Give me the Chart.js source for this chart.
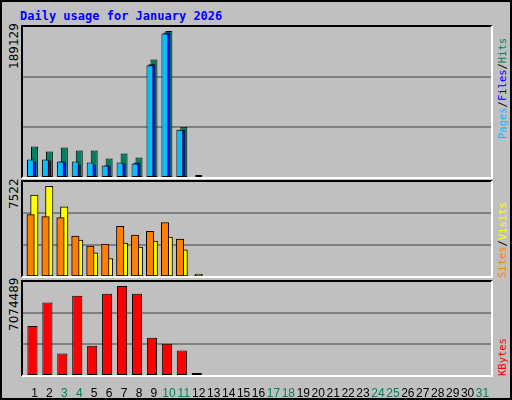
<!DOCTYPE html>
<html><head><meta charset="utf-8">
<script src="https://cdn.jsdelivr.net/npm/chart.js@4"></script>
<style>
html,body{margin:0;padding:0;}
#wrap{position:relative;width:508px;height:396px;background:#c0c0c0;border:2px solid #000;overflow:hidden;font-family:'DejaVu Sans Mono',monospace;}
canvas{position:absolute;left:0;}
.t{position:absolute;white-space:nowrap;font-size:11px;}
.rot{transform-origin:0 0;transform:rotate(-90deg);}
</style></head><body>
<div id="wrap">
<div class="t" style="left:18px;top:7px;color:#0000ff;font-weight:bold;font-size:12px;">Daily usage for January 2026</div>
<div class="t rot" style="left:5px;top:67px;font-family:'DejaVu Sans';font-size:12px;">189129</div>
<div class="t rot" style="left:5px;top:207px;font-family:'DejaVu Sans';font-size:12px;">7522</div>
<div class="t rot" style="left:5px;top:329px;font-family:'DejaVu Sans';font-size:12px;">7074489</div>
<div class="t rot" style="left:494px;top:137px;font-size:10.5px;"><span style="color:#00c0ff">Pages</span>/<span style="color:#0000ff">Files</span>/<span style="color:#008060">Hits</span></div>
<div class="t rot" style="left:494px;top:276px;font-size:10.5px;"><span style="color:#ff8000">Sites</span>/<span style="color:#ffff00">Visits</span></div>
<div class="t rot" style="left:494px;top:374px;font-size:10.5px;"><span style="color:#ff0000">KBytes</span></div>
<canvas id="c1" width="512" height="158" style="top:20px"></canvas>
<canvas id="c2" width="512" height="103" style="top:175px"></canvas>
<canvas id="c3" width="512" height="123" style="top:275px"></canvas>
</div>
<script>
const days = Array.from({length:31},(_, i)=>String(i+1));
const weekendDays = [3,4,10,11,17,18,24,25,31];
const hits   = [39400,33000,38100,34200,34200,24000,30400,25200,152300,189129,65000,0];
const files  = [20100,21400,20100,16300,16300,15000,17500,18800,145900,187000,61200,0];
const pages  = [22700,22700,20100,20100,18800,15000,18800,17500,144600,185700,61200,0];
const visits = [6783,7522,5799,3009,1942,1450,2763,2434,2927,3255,2188,0];
const sites  = [5142,4978,4896,3337,2516,2680,4158,3419,3747,4486,3091,0];
const kbytes = [3887000,5753000,1710000,6297000,2332000,6453000,7074489,6453000,2954000,2488000,1944000,0];
const maxes = [194240, 7878, 7385000];

const frame = {
  id:'frame',
  beforeDatasetsDraw(ch){
    const a=ch.chartArea, y=ch.scales.y, ctx=ch.ctx;
    ctx.save();
    ctx.strokeStyle='#808080'; ctx.lineWidth=2;
    for(let k=1;k<3;k++){const py=Math.round(y.getPixelForValue(y.max*k/3));
      ctx.beginPath();ctx.moveTo(a.left-3,py);ctx.lineTo(a.right+4,py);ctx.stroke();}
    ctx.restore();
  },
  afterDraw(ch){
    const a=ch.chartArea, ctx=ch.ctx;
    const L=a.left-3,R=a.right+4,T=a.top-1,B=a.bottom+1;
    ctx.save();ctx.lineWidth=2;
    ctx.strokeStyle='#000';ctx.beginPath();ctx.moveTo(L,B);ctx.lineTo(L,T);ctx.lineTo(R,T);ctx.stroke();
    ctx.strokeStyle='#fff';ctx.beginPath();ctx.moveTo(R,T);ctx.lineTo(R,B);ctx.lineTo(L,B);ctx.stroke();
    ctx.restore();
  }
};
function ds(data,color,order,minLen){return {data,order,backgroundColor:color,borderColor:'#000',borderWidth:1,borderSkipped:false,minBarLength:minLen||0};}
function make(id,datasets,max,showX,pad,barPct,catPct){
  return new Chart(document.getElementById(id),{
    type:'bar',
    data:{labels:days,datasets},
    plugins:[frame],
    options:{
      responsive:false,animation:false,
      layout:{padding:{left:23,right:26,top:pad[0],bottom:pad[1]}},
      plugins:{legend:{display:false},tooltip:{enabled:false}},
      datasets:{bar:{barPercentage:barPct,categoryPercentage:catPct}},
      scales:{
        x:{display:showX,grid:{display:false},border:{display:false},
           afterFit:s=>{if(showX) s.height=25;},
           ticks:{autoSkip:false,maxRotation:0,padding:3,labelOffset:2,
             font:{family:'Liberation Sans',size:12},
             color:c=>weekendDays.includes(c.index+1)?'#008060':'#000'}},
        y:{display:false,min:0,max:max}
      }
    }
  });
}
make('c1',[ds(hits,'#008060',3,2),ds(files,'#0000ff',2),ds(pages,'#00c0ff',1)],maxes[0],false,[5,3],3.5,0.4);
make('c2',[ds(visits,'#ffff00',2,2),ds(sites,'#ff8000',1)],maxes[1],false,[5,4],2.0,0.5);
make('c3',[ds(kbytes,'#ff0000',1,2)],maxes[2],true,[5,0],0.68,1);
</script>
</body></html>
